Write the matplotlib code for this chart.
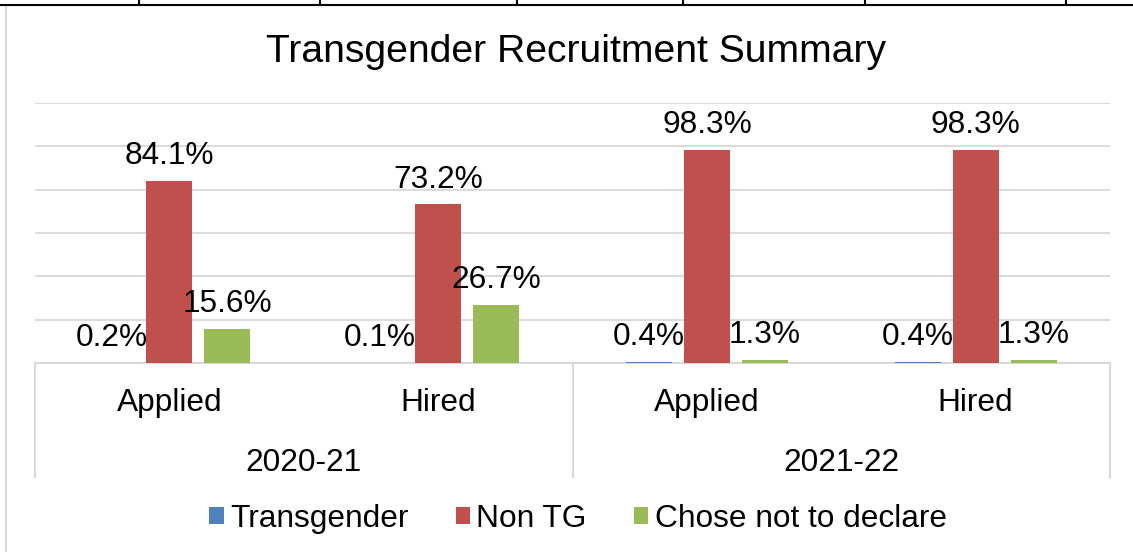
import numpy as np
import matplotlib.pyplot as plt
from matplotlib.lines import Line2D

plt.rcParams['font.family'] = ['Liberation Sans', 'DejaVu Sans']

title = 'Transgender Recruitment Summary'
years = ['2020-21', '2021-22']
stages = ['Applied', 'Hired', 'Applied', 'Hired']
series = ['Transgender', 'Non TG', 'Chose not to declare']
transgender = [0.2, 0.1, 0.4, 0.4]
non_tg = [84.1, 73.2, 98.3, 98.3]
not_declared = [15.6, 26.7, 1.3, 1.3]
colors = ['#4F81BD', '#C0504D', '#9BBB59']

W, H = 1133, 552
fs = 22.8
fig = plt.figure(figsize=(W / 100, H / 100), dpi=100)
ax = fig.add_axes([35 / W, (H - 363) / H, (1110 - 35) / W, (363 - 103) / H])

x = np.arange(len(stages)) + 0.5
width = 0.171
offset = 0.216
grid_c = '#D9D9D9'

for i, vals in enumerate([transgender, non_tg, not_declared]):
    bars = ax.bar(x + (i - 1) * offset, vals, width, color=colors[i],
                  label=series[i], zorder=3)
    ax.bar_label(bars, fmt='%.1f%%', padding=7, fontsize=fs)

ax.set_xlim(0, len(stages))
ax.set_ylim(0, 120)
ax.set_yticks(np.arange(20, 121, 20))
ax.yaxis.grid(True, color=grid_c, lw=1.3)
ax.tick_params(left=False, labelleft=False, bottom=False, labelbottom=False)
for s in ['left', 'right', 'top']:
    ax.spines[s].set_visible(False)
ax.spines['bottom'].set_color(grid_c)
ax.spines['bottom'].set_linewidth(1.5)

# multi-level category axis
tr = ax.get_xaxis_transform()
for xs in [0, 2, 4]:
    ax.plot([xs, xs], [0, -0.438], color=grid_c, lw=1.5, transform=tr,
            clip_on=False)
for xi, lab in zip(x, stages):
    ax.text(xi, -0.154, lab, transform=tr, ha='center', va='center',
            fontsize=fs)
for j, yr in enumerate(years):
    ax.text(2 * j + 1, -0.385, yr, transform=tr, ha='center', va='center',
            fontsize=fs)

fig.text(576 / W, 1 - 52 / H, title, ha='center', va='center', fontsize=28.2)

fig.legend(loc='center', bbox_to_anchor=(578 / W, 1 - 519 / H), ncol=3,
           frameon=False, fontsize=fs, handlelength=0.45, handleheight=0.45,
           handletextpad=0.2, columnspacing=1.5)

# surrounding frame / table border
fig.add_artist(Line2D([6 / W, 6 / W], [0, 1 - 5 / H], color=grid_c, lw=1.5))
fig.add_artist(Line2D([0, 1], [1 - 4.5 / H, 1 - 4.5 / H], color='black', lw=1.5))
for tx in [139, 320, 517, 683, 865, 1066]:
    fig.add_artist(Line2D([tx / W, tx / W], [1 - 4.5 / H, 1], color='black',
                          lw=1.5))

fig.savefig('out.png', dpi=100)
